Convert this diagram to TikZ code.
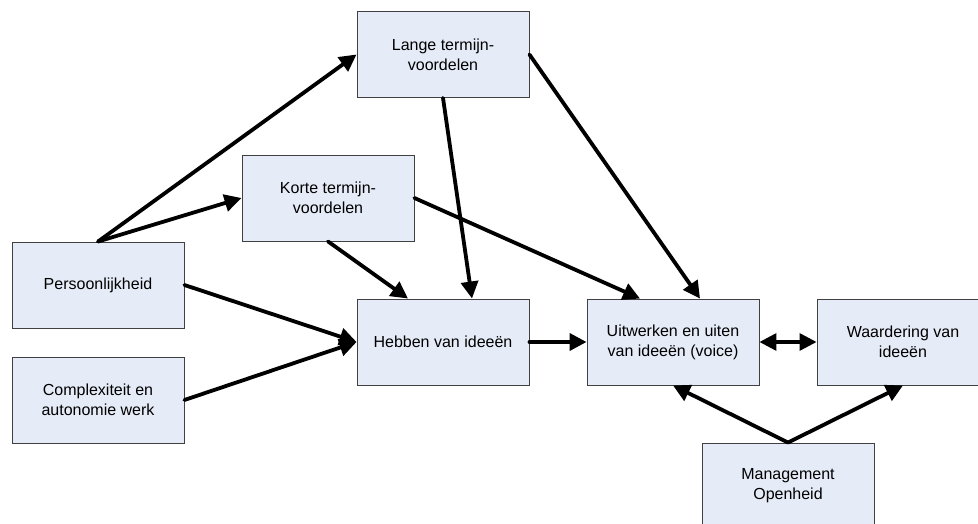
\documentclass[tikz,border=0pt]{standalone}
\usepackage{fontspec}
\setmainfont{Liberation Sans}
\usetikzlibrary{arrows.meta}
\definecolor{boxfill}{HTML}{E6ECF7}
\definecolor{boxline}{HTML}{404040}
\begin{document}
\begin{tikzpicture}[x=1pt,y=-1pt,
  box/.style={draw=boxline, fill=boxfill, line width=0.9pt,
    minimum width=172pt, minimum height=86pt, inner sep=0pt,
    align=center, font=\fontsize{16}{20}\selectfont},
  tip/.tip={Triangle[length=17pt,width=17pt]},
  conn/.style={line width=3.8pt, line cap=round, -tip}]
\useasboundingbox (0,0) rectangle (978,524);
\clip (0,0) rectangle (978,524);

% factors
\node[box] (lange)  at (443,54.5) {Lange termijn-\\voordelen};
\node[box] (korte)  at (328,198)  {Korte termijn-\\voordelen};
\node[box] (pers)   at (98,285)   {Persoonlijkheid};
\node[box] (compl)  at (98,400)   {Complexiteit en\\autonomie werk};
\node[box] (hebben) at (443,342)  {Hebben van ideeën};
\node[box] (uitw)   at (673,342)  {Uitwerken en uiten\\van ideeën (voice)};
\node[box] (waard)  at (903,342)  {Waardering van\\ideeën};
\node[box] (mgmt)   at (788,486)  {Management\\Openheid};

% relations
\draw[conn] (pers.north) -- (lange.west);
\draw[conn] (pers.north) -- (korte.west);
\draw[conn] (korte.south) -- ([xshift=-35pt]hebben.north);
\draw[conn] (lange.south) -- ([xshift=29pt]hebben.north);
\draw[conn] (lange.east) -- ([xshift=27pt]uitw.north);
\draw[conn] (korte.east) -- ([xshift=-33pt]uitw.north);
\draw[conn] (pers.east) -- (hebben.west);
\draw[conn] (compl.east) -- (hebben.west);
\draw[conn] (hebben.east) -- (uitw.west);
\draw[conn, line width=3.2pt, tip-tip] (uitw.east) -- (waard.west);
\draw[conn] (mgmt.north) -- (uitw.south);
\draw[conn] (mgmt.north) -- (waard.south);
\end{tikzpicture}
\end{document}
